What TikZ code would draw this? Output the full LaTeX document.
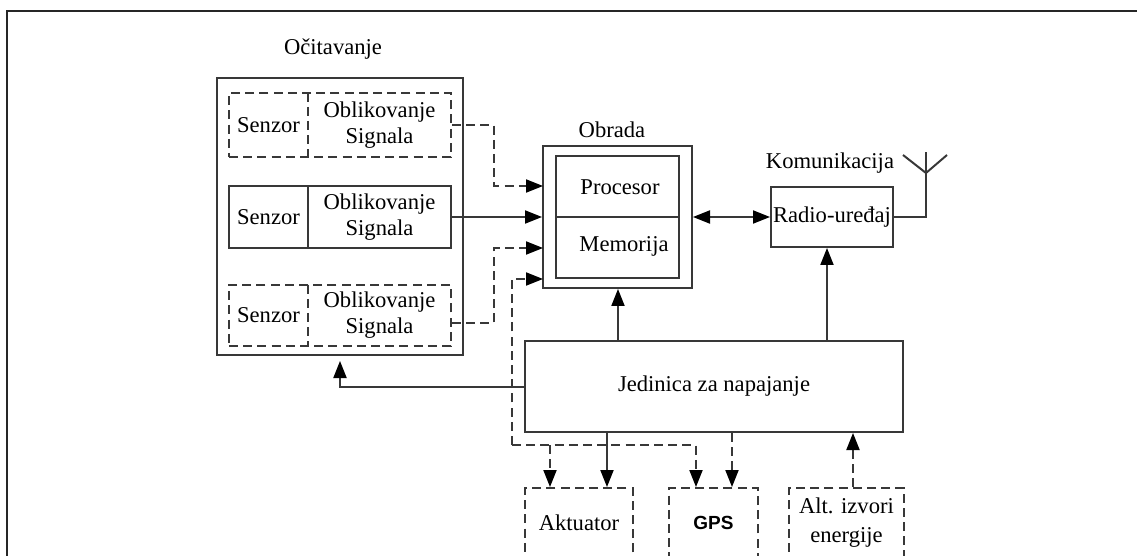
\documentclass[tikz,border=0pt]{standalone}
\usepackage{fontspec}
\setmainfont{Liberation Serif}
\newfontfamily\gpsfont{Liberation Sans}
\usetikzlibrary{arrows.meta,calc}
\begin{document}
\begin{tikzpicture}[x=0.5pt,y=-0.5pt,
  ln/.style={draw=black!78,line width=1pt},
  dsh/.style={dash pattern=on 4.5pt off 2.6pt},
  box/.style={ln,rectangle,inner sep=0pt},
  txt/.style={inner sep=0pt,font=\fontsize{11.3}{13}\selectfont,align=center},
  tip/.style={-{Triangle[length=8.5pt,width=6.5pt,color=black]}},
  dtip/.style={{Triangle[length=8.5pt,width=6.5pt,color=black]}-{Triangle[length=8.5pt,width=6.5pt,color=black]}}]
\useasboundingbox (0,0) rectangle (1137,556);
\clip (0,0) rectangle (1137,556);

% outer frame
\draw[line width=1.4pt,black!85] (7,11) rectangle (1150,570);

% sensing block
\node[txt] (tOc) at (333,49) {Očitavanje};
\node[box,minimum width=123pt,minimum height=138.5pt] (oc) at (340,216.5) {};

\node[box,dsh,minimum width=111pt,minimum height=32pt] (r1) at (340,125) {};
\node[txt,minimum width=39.5pt,minimum height=32pt] (s1) at (268.5,125) {Senzor};
\node[txt] (o1) at (379.5,125) {Oblikovanje\\Signala};
\draw[ln,dsh] (s1.north east) -- (s1.south east);

\node[box,minimum width=111pt,minimum height=31pt] (r2) at (340,217) {};
\node[txt,minimum width=39.5pt,minimum height=31pt] (s2) at (268.5,217) {Senzor};
\node[txt] (o2) at (379.5,217) {Oblikovanje\\Signala};
\draw[ln] (s2.north east) -- (s2.south east);

\node[box,dsh,minimum width=111pt,minimum height=30.5pt] (r3) at (340,315.5) {};
\node[txt,minimum width=39.5pt,minimum height=30.5pt] (s3) at (268.5,315.5) {Senzor};
\node[txt] (o3) at (379.5,315.5) {Oblikovanje\\Signala};
\draw[ln,dsh] (s3.north east) -- (s3.south east);

% processing block
\node[txt] (tOb) at (612,130) {Obrada};
\node[box,minimum width=74.5pt,minimum height=71pt] (obo) at (617.5,217) {};
\node[box,minimum width=61.5pt,minimum height=61pt] (obi) at (617.5,217) {};
\draw[ln] (obi.west) -- (obi.east);
\node[txt] (proc) at (620,187) {Procesor};
\node[txt] (mem) at (624,246) {Memorija};

% communication block
\node[txt] (tKom) at (830,163) {Komunikacija};
\node[box,txt,minimum width=61pt,minimum height=30pt] (rad) at (832,217) {Radio-uređaj};

% power unit
\node[box,txt,minimum width=189pt,minimum height=45.5pt] (jed) at (714,386.5) {Jedinica za napajanje};

% optional units
\node[box,dsh,txt,minimum width=54pt,minimum height=35pt] (akt) at (579,523) {Aktuator};
\node[box,dsh,inner sep=0pt,minimum width=44.5pt,minimum height=35pt,
      font=\fontsize{9.5}{11}\selectfont\gpsfont\bfseries] (gps) at (713.5,523) {GPS};
\node[box,dsh,txt,minimum width=57.5pt,minimum height=35pt,
      font=\fontsize{11.3}{14.5}\selectfont] (alt) at (846.5,523) {Alt. izvori\\energije};

% sensor -> processor links
\coordinate (in1) at (543,186);
\coordinate (in3) at (543,248);
\coordinate (in4) at (543,279);
\draw[ln,dsh,tip] (r1.east) -- ++(42,0) |- (in1);
\draw[ln,tip] (r2.east) -- (obo.west);
\draw[ln,dsh,tip] ($(r3.east)+(0,7.5)$) -- ++(42,0) |- (in3);

% processor bus to actuator and GPS
\coordinate (bus) at (512,445);
\coordinate (aktIn) at ($(akt.north)+(-29,0)$);
\coordinate (gpsIn) at ($(gps.north)+(-17.5,0)$);
\draw[ln,dsh,tip] (bus) |- (in4);
\draw[ln,dsh,tip] (bus) -| (gpsIn);
\draw[ln,dsh,tip] (aktIn |- bus) -- (aktIn);

% power distribution
\coordinate (xp) at (618,0);
\coordinate (xr) at (827,0);
\coordinate (akt2) at ($(akt.north)+(28,0)$);
\coordinate (gps2) at ($(gps.north)+(18.5,0)$);
\coordinate (alt2) at ($(alt.north)+(6.5,0)$);
\draw[ln,tip] (xp |- jed.north) -- (xp |- obo.south);
\draw[ln,tip] (xr |- jed.north) -- (xr |- rad.south);
\draw[ln,tip] (akt2 |- jed.south) -- (akt2);
\draw[ln,dsh,tip] (gps2 |- jed.south) -- (gps2);
\draw[ln,dsh,tip] (alt2) -- (alt2 |- jed.south);
\draw[ln,tip,shorten >=2.5pt] (jed.west) -| (oc.south);

% processor <-> radio
\draw[ln,dtip] (obo.east) -- (rad.west);

% antenna
\coordinate (amid) at (926,173);
\coordinate (atop) at (926,152);
\coordinate (aleft) at (903,155);
\coordinate (aright) at (947,155);
\draw[ln] (rad.east) -| (atop);
\draw[ln] (aleft) -- (amid) -- (aright);
\end{tikzpicture}
\end{document}
